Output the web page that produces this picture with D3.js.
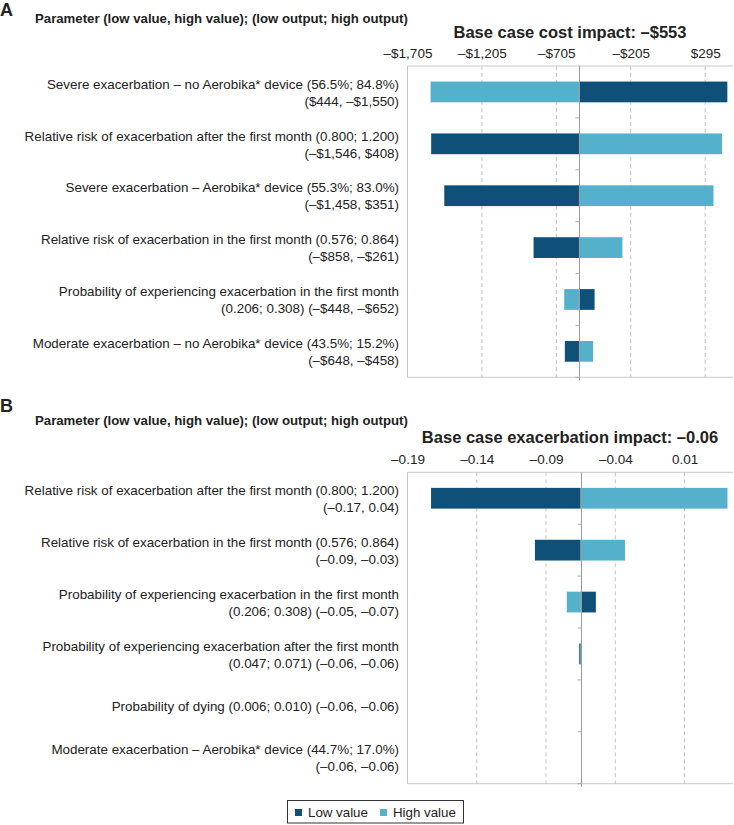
<!DOCTYPE html>
<html><head><meta charset="utf-8">
<script src="https://cdn.jsdelivr.net/npm/d3@7"></script>
<style>
body{margin:0;background:#fff;}
svg text{font-family:"Liberation Sans",Arial,sans-serif;fill:#222;}
</style></head>
<body><svg id="c" width="734" height="825"></svg>
<script>
// ---- Panel A data (cost impact) ----
const costLabels = [
  ["Severe exacerbation \u2013 no Aerobika* device (56.5%; 84.8%)", "($444, \u2013$1,550)"],
  ["Relative risk of exacerbation after the first month (0.800; 1.200)", "(\u2013$1,546, $408)"],
  ["Severe exacerbation \u2013 Aerobika* device (55.3%; 83.0%)", "(\u2013$1,458, $351)"],
  ["Relative risk of exacerbation in the first month (0.576; 0.864)", "(\u2013$858, \u2013$261)"],
  ["Probability of experiencing exacerbation in the first month", "(0.206; 0.308) (\u2013$448, \u2013$652)"],
  ["Moderate exacerbation \u2013 no Aerobika* device (43.5%; 15.2%)", "(\u2013$648, \u2013$458)"]
];
const costLow  = [444, -1546, -1458, -858, -448, -648];
const costHigh = [-1550, 408, 351, -261, -652, -458];
const costBase = -553;
const costTicks = [-1705, -1205, -705, -205, 295];
const costDomain = [-1705, 482];
const costTitle = "Base case cost impact: \u2013$553";

// ---- Panel B data (exacerbation impact) ----
const exacLabels = [
  ["Relative risk of exacerbation after the first month (0.800; 1.200)", "(\u20130.17, 0.04)"],
  ["Relative risk of exacerbation in the first month (0.576; 0.864)", "(\u20130.09, \u20130.03)"],
  ["Probability of experiencing exacerbation in the first month", "(0.206; 0.308) (\u20130.05, \u20130.07)"],
  ["Probability of experiencing exacerbation after the first month", "(0.047; 0.071) (\u20130.06, \u20130.06)"],
  ["Probability of dying (0.006; 0.010) (\u20130.06, \u20130.06)"],
  ["Moderate exacerbation \u2013 Aerobika* device (44.7%; 17.0%)", "(\u20130.06, \u20130.06)"]
];
const exacLow  = [-0.173, -0.098, -0.054, -0.066, -0.065, -0.065];
const exacHigh = [0.041, -0.033, -0.075, -0.064, -0.065, -0.065];
const exacBase = -0.065;
const exacTicks = [-0.19, -0.14, -0.09, -0.04, 0.01];
const exacDomain = [-0.19, 0.045];
const exacTitle = "Base case exacerbation impact: \u20130.06";

const legendItems = ["Low value", "High value"];
const DARK = "#0f5079", LIGHT = "#55b0cb";

const svg = d3.select("#c");
const fmtCost = v => (v < 0 ? "\u2013$" : "$") + d3.format(",")(Math.abs(v));
const fmtExac = v => (v < 0 ? "\u2013" : "") + d3.format(".2f")(Math.abs(v));

function panel(o){
  const g = svg.append("g");
  g.append("text").attr("x",0).attr("y",o.letterY).attr("font-size","18px").attr("font-weight","bold").text(o.letter);
  g.append("text").attr("x",35).attr("y",o.headY).attr("font-size","13.2px").attr("font-weight","bold")
    .text("Parameter (low value, high value); (low output; high output)");
  g.append("text").attr("x",570).attr("y",o.titleY).attr("text-anchor","middle").attr("font-size","16.5px")
    .attr("font-weight","bold").text(o.title);

  const x = d3.scaleLinear().domain(o.domain).range([407.5, 733]);
  const y = d3.scaleBand().domain(d3.range(o.labels.length)).range([o.top, o.bottom]).paddingInner(0).paddingOuter(0);
  const bh = y.bandwidth()*0.4;

  // gridlines
  g.selectAll(".grid").data(o.ticks.slice(1)).join("line")
    .attr("x1",d=>x(d)).attr("x2",d=>x(d)).attr("y1",o.top).attr("y2",o.bottom)
    .attr("stroke","#c4c4c4").attr("stroke-dasharray","4,3");
  // frame
  g.append("path").attr("d",`M733,${o.top}H407.5V${o.bottom}H733`).attr("fill","none").attr("stroke","#c8c8c8");
  // axis
  const ax = g.append("g").attr("transform",`translate(0,${o.top})`)
    .call(d3.axisTop(x).tickValues(o.ticks).tickFormat(o.fmt).tickSize(0).tickPadding(8));
  ax.select(".domain").remove();
  ax.selectAll("text").attr("font-size","13.5px").attr("fill","#222").style("font-family","'Liberation Sans',Arial,sans-serif");

  // bars
  o.labels.forEach((_,i)=>{
    [[o.low[i],DARK],[o.high[i],LIGHT]].forEach(([v,c])=>{
      const x0 = Math.min(x(o.base), x(v)), x1 = Math.max(x(o.base), x(v));
      g.append("rect").attr("x",x0).attr("y",y(i)+(y.bandwidth()-bh)/2)
        .attr("width",Math.max(x1-x0, v===o.base?0:1)).attr("height",bh).attr("fill",c);
    });
  });
  // base line
  const bx = Math.round(x(o.base))+0.5;
  g.append("line").attr("x1",bx).attr("x2",bx).attr("y1",o.top).attr("y2",o.bottom+3).attr("stroke","#9a9a9a");
  // small ticks at band boundaries
  g.selectAll(".bt").data(d3.range(1,o.labels.length+1)).join("line")
    .attr("x1",bx-4).attr("x2",bx).attr("y1",d=>y(0)+d*y.bandwidth()).attr("y2",d=>y(0)+d*y.bandwidth())
    .attr("stroke","#b0b0b0");

  // labels
  o.labels.forEach((lines,i)=>{
    const cy = y(i)+y.bandwidth()/2;
    const t = g.append("text").attr("text-anchor","end").attr("font-size","13.4px");
    lines.forEach((s,j)=>{
      const dy = lines.length===1 ? 0 : (j===0 ? -8 : 9);
      t.append("tspan").attr("x",399).attr("y",cy+dy).attr("dy","0.35em").text(s);
    });
  });
}

panel({letter:"A",letterY:16,headY:23,titleY:38,title:costTitle,labels:costLabels,low:costLow,high:costHigh,
  base:costBase,ticks:costTicks,domain:costDomain,fmt:fmtCost,top:66,bottom:377.3});
panel({letter:"B",letterY:412,headY:425,titleY:443,title:exacTitle,labels:exacLabels,low:exacLow,high:exacHigh,
  base:exacBase,ticks:exacTicks,domain:exacDomain,fmt:fmtExac,top:472.3,bottom:783.7});

// legend
const lg = svg.append("g");
lg.append("rect").attr("x",287.5).attr("y",800.5).attr("width",176).attr("height",22.5)
  .attr("fill","#fff").attr("stroke","#333");
const lx = [295, 380];
legendItems.forEach((s,i)=>{
  lg.append("rect").attr("x",lx[i]).attr("y",809).attr("width",7).attr("height",7).attr("fill",i?LIGHT:DARK);
  lg.append("text").attr("x",lx[i]+13).attr("y",812.5).attr("dy","0.35em").attr("font-size","13.3px").text(s);
});
</script></body></html>
